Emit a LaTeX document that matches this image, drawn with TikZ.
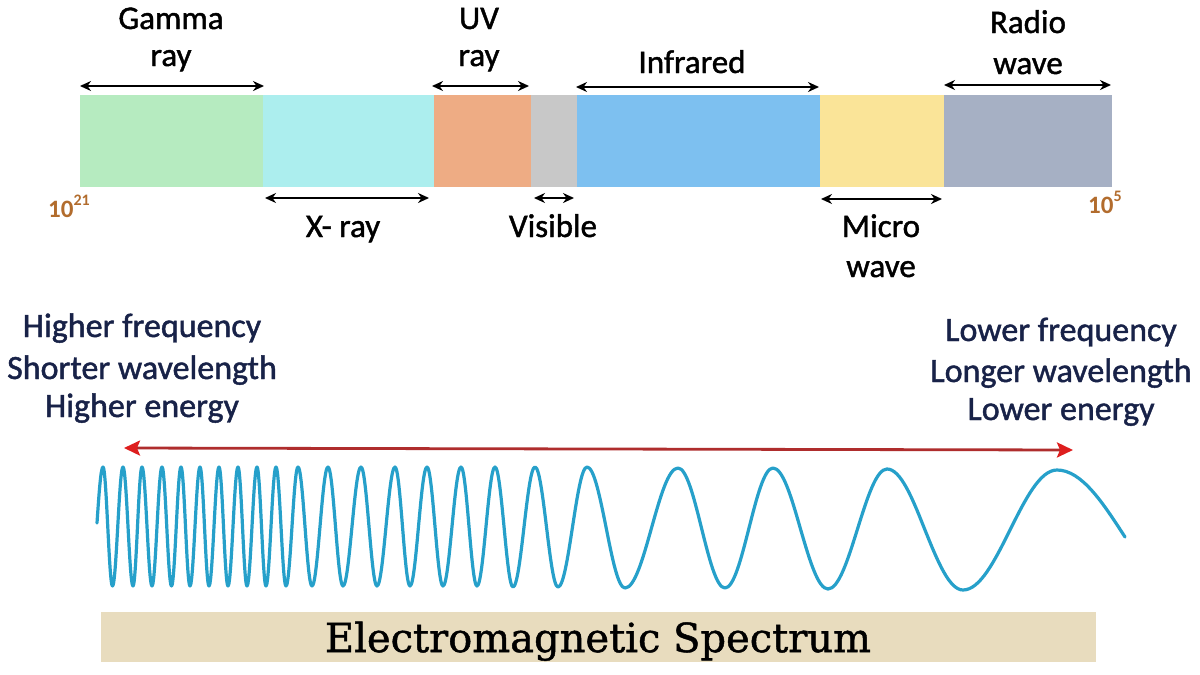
\documentclass[tikz,border=0pt]{standalone}
\usepackage{fontspec}
\setmainfont{Carlito}
\newfontfamily\lblfont{Carlito}[FakeBold=1.3]
\newfontfamily\slabfont{DejaVu Serif}[FakeBold=1.2]
\usetikzlibrary{arrows.meta}
\definecolor{gammaC}{RGB}{182,235,192}
\definecolor{xrayC}{RGB}{172,238,238}
\definecolor{uvC}{RGB}{238,172,132}
\definecolor{visC}{RGB}{200,200,200}
\definecolor{irC}{RGB}{125,192,240}
\definecolor{microC}{RGB}{250,228,152}
\definecolor{radioC}{RGB}{166,176,196}
\definecolor{expC}{RGB}{178,108,45}
\definecolor{navyC}{RGB}{24,34,72}
\definecolor{waveC}{RGB}{38,160,202}
\definecolor{lineRed}{RGB}{175,45,45}
\definecolor{headRed}{RGB}{222,30,30}
\definecolor{bannerC}{RGB}{232,220,190}
\begin{document}
\begin{tikzpicture}[x=1pt,y=-1pt,
  lbl/.style={anchor=base,inner sep=0pt,font=\lblfont\fontsize{33}{40}\selectfont},
  sidelbl/.style={anchor=base,inner sep=0pt,text=navyC,font=\lblfont\fontsize{34}{40}\selectfont},
  explbl/.style={anchor=base west,inner sep=0pt,text=expC,font=\bfseries\fontsize{25}{30}\selectfont},
  dimarrow/.style={{Stealth[length=11pt,width=10pt]}-{Stealth[length=11pt,width=10pt]},line width=2.6pt,black},
  redarrow/.style={{Stealth[length=16pt,width=15pt,inset=3pt,color=headRed]}-{Stealth[length=16pt,width=15pt,inset=3pt,color=headRed]},line width=2.8pt,lineRed},
  wave/.style={line width=3.2pt,waveC,line cap=round,line join=round}]
\useasboundingbox (0,0) rectangle (1200,675);
\fill[white] (0,0) rectangle (1200,675);

% spectrum bar
\fill[gammaC] (80,95) rectangle (263,187);
\fill[xrayC]  (263,95) rectangle (434,187);
\fill[uvC]    (434,95) rectangle (531,187);
\fill[visC]   (531,95) rectangle (577,187);
\fill[irC]    (577,95) rectangle (820,187);
\fill[microC] (820,95) rectangle (944,187);
\fill[radioC] (944,95) rectangle (1112,187);

% arrow end points
\coordinate (gL) at (80,86);   \coordinate (gR) at (264,86);
\coordinate (uL) at (432,86);  \coordinate (uR) at (529,86);
\coordinate (iL) at (576,87);  \coordinate (iR) at (819,87);
\coordinate (rL) at (944,85);  \coordinate (rR) at (1111,85);
\coordinate (xL) at (265,198); \coordinate (xR) at (429,198);
\coordinate (vL) at (534,198); \coordinate (vR) at (574,198);
\coordinate (mL) at (821,199); \coordinate (mR) at (942,199);

\draw[dimarrow] (gL) -- (gR);
\draw[dimarrow] (uL) -- (uR);
\draw[dimarrow] (iL) -- (iR);
\draw[dimarrow] (rL) -- (rR);
\draw[dimarrow] (xL) -- (xR);
\draw[dimarrow] (vL) -- (vR);
\draw[dimarrow] (mL) -- (mR);

% labels above
\node[lbl] (gamma1) at (171,29) {Gamma};
\node[lbl] (gamma2) at (171,66) {ray};
\node[lbl] (uv1) at (479,29) {UV};
\node[lbl] (uv2) at (479,66) {ray};
\node[lbl] (ir) at (692,73) {Infrared};
\node[lbl] (radio1) at (1028,33) {Radio};
\node[lbl] (radio2) at (1028,74) {wave};
% labels below
\node[lbl] (xray) at (343,237) {X- ray};
\node[lbl] (vis) at (553,237) {Visible};
\node[lbl] (micro1) at (881,237) {Micro};
\node[lbl] (micro2) at (881,277) {wave};

\node[explbl] (e21) at (48,217) {10\raisebox{0.45em}{\fontsize{16}{16}\selectfont 21}};
\node[explbl] (e5) at (1088,213) {10\raisebox{0.45em}{\fontsize{16}{16}\selectfont 5}};

% side texts
\node[sidelbl] (hf) at (142,337) {Higher frequency};
\node[sidelbl] (sw) at (142,379) {Shorter wavelength};
\node[sidelbl] (he) at (142,417) {Higher energy};
\node[sidelbl] (lf) at (1061,341) {Lower frequency};
\node[sidelbl] (lw) at (1061,382) {Longer wavelength};
\node[sidelbl] (le) at (1061,420) {Lower energy};

% red double arrow
\coordinate (aL) at (124,448);
\coordinate (aR) at (1073,450);
\draw[redarrow] (aL) -- (aR);

% wave
\draw[wave] (97,523) sin (103,467)
 cos (107.75,526.5) sin (112.5,586) cos (117.75,526.5) sin (123,467)
 cos (128,526.5) sin (133,586) cos (137.5,526.5) sin (142,467)
 cos (147,526.5) sin (152,586) cos (157,526.5) sin (162,467)
 cos (166.75,526.5) sin (171.5,586) cos (176.25,526.5) sin (181,467)
 cos (185.5,526.5) sin (190,586) cos (195,526.5) sin (200,467)
 cos (204.5,526.5) sin (209,586) cos (214,526.5) sin (219,467)
 cos (223.5,526.5) sin (228,586) cos (233,526.5) sin (238,467)
 cos (242.5,526.5) sin (247,586) cos (252,526.5) sin (257,467)
 cos (261.5,526.5) sin (266,586) cos (271,526.5) sin (276,467)
 cos (281,526.5) sin (286,586) cos (292,526.5) sin (298,467)
 cos (305,526.5) sin (312,586) cos (320,526.5) sin (328,467)
 cos (335.5,526.5) sin (343,586) cos (352,526.5) sin (361,467)
 cos (369,526.5) sin (377,586) cos (386,526.5) sin (395,467)
 cos (402.5,526.5) sin (410,586) cos (418.5,526.5) sin (427,467)
 cos (435,526.5) sin (443,586) cos (452,526.5) sin (461,467)
 cos (469,526.5) sin (477,586) cos (486,526.5) sin (495,467)
 cos (504,526.5) sin (513,587) cos (524,527) sin (535,467)
 cos (546.5,527) sin (558,587) cos (572.5,527) sin (587,467)
 cos (606,527) sin (625,588) cos (651.5,528) sin (678,468)
 cos (701.5,528) sin (725,588) cos (749,528) sin (773,468)
 cos (800.5,529) sin (828,589) cos (857.5,529) sin (887,469)
 cos (925,530) sin (963,590) cos (1010,530) sin (1057,470)
 cos (1125,537);

% banner
\fill[bannerC] (101,612) rectangle (1096,662);
\node[anchor=base,inner sep=0pt,font=\slabfont\fontsize{40}{44}\selectfont,text=black] (title) at (598,652) {Electromagnetic Spectrum};
\end{tikzpicture}
\end{document}
